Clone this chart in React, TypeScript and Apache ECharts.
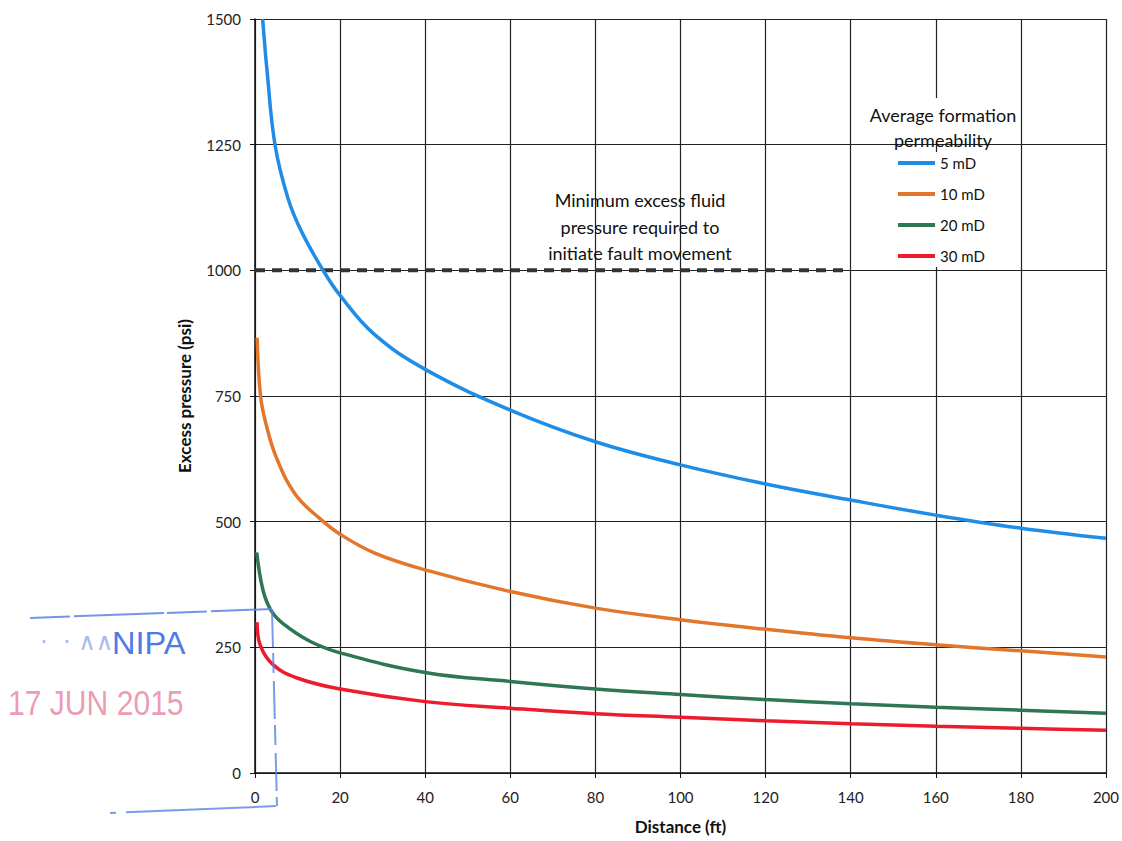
import React, { useEffect, useRef } from "react";
import * as echarts from "echarts";

// Distance (ft) and excess pressure (psi), per permeability
const dist5 = [1.8, 2.1, 2.8, 4.7, 7.8, 11, 16, 20, 28, 40, 60, 80, 100, 120, 140, 160, 180, 200];
const psi5 = [1500, 1468, 1400, 1250, 1142, 1076, 1000, 950, 873, 803, 722, 659, 613, 575, 543, 513, 487, 467];

const dist10 = [0.5, 1.3, 2.6, 5.0, 9.5, 15.4, 20, 28, 40, 60, 80, 100, 120, 140, 160, 180, 200];
const psi10 = [866, 750, 694, 628, 554, 505, 475, 438, 404, 361, 328, 305, 286, 269, 255, 243, 231];

const dist20 = [0.4, 1.9, 3.8, 6.6, 12.9, 20, 40, 60, 80, 100, 120, 140, 160, 180, 200];
const psi20 = [439, 363, 323, 297, 262, 239, 200, 182, 167, 156, 146, 138, 131, 125, 119];

const dist30 = [0.5, 1.2, 4.3, 9.9, 20, 40, 60, 80, 100, 120, 140, 160, 180, 200];
const psi30 = [300, 255, 215, 189, 167, 142, 129, 118, 111, 104, 98, 93, 89, 85];

const thresholdDist = [0, 140];
const thresholdPsi = [1000, 1000];

const seriesNames = ["5 mD", "10 mD", "20 mD", "30 mD"];
const seriesColors = ["#1f8ce6", "#e2772c", "#2e7654", "#ec1c2c"];

const xTicks = { min: 0, max: 200, interval: 20 };
const yTicks = { min: 0, max: 1500, interval: 250 };

const FONT = "Lato, 'Open Sans', 'DejaVu Sans', sans-serif";

function pairs(xs: number[], ys: number[]) {
  return xs.map((x, i) => [x, ys[i]]);
}

export default function App() {
  const ref = useRef<HTMLDivElement>(null);
  useEffect(() => {
    if (!ref.current) return;
    const chart = echarts.init(ref.current, undefined, { renderer: "svg" });
    const allData = [
      pairs(dist5, psi5),
      pairs(dist10, psi10),
      pairs(dist20, psi20),
      pairs(dist30, psi30),
    ];
    const curveSeries = allData.map((d, i) => ({
      name: seriesNames[i],
      type: "line",
      data: d,
      showSymbol: false,
      symbol: "none",
      smooth: 0.4,
      lineStyle: { color: seriesColors[i], width: 3.5 },
      itemStyle: { color: seriesColors[i] },
      z: 3,
    }));
    const stampBlue = "#5a82e6";
    chart.setOption({
      animation: false,
      backgroundColor: "#ffffff",
      grid: { left: 255, right: 16, top: 19, bottom: 68, containLabel: false },
      xAxis: {
        type: "value",
        min: xTicks.min,
        max: xTicks.max,
        interval: xTicks.interval,
        name: "Distance (ft)",
        nameLocation: "middle",
        nameGap: 45,
        nameTextStyle: { fontFamily: FONT, fontSize: 17, fontWeight: "bold", color: "#111" },
        axisLine: { show: true, lineStyle: { color: "#111", width: 1.5 } },
        axisTick: { show: true, inside: false, length: 5, lineStyle: { color: "#111" } },
        axisLabel: { margin: 16, fontFamily: FONT, fontSize: 15, color: "#222", formatter: (v: number) => String(v) },
        splitLine: { show: true, lineStyle: { color: "#222", width: 1.2 } },
      },
      yAxis: {
        type: "value",
        min: yTicks.min,
        max: yTicks.max,
        interval: yTicks.interval,
        name: "Excess pressure (psi)",
        nameLocation: "middle",
        nameGap: 62,
        nameTextStyle: { fontFamily: FONT, fontSize: 17, fontWeight: "bold", color: "#111" },
        axisLine: { show: true, lineStyle: { color: "#111", width: 1.5 } },
        axisTick: { show: true, inside: false, length: 5, lineStyle: { color: "#111" } },
        axisLabel: { margin: 14, fontFamily: FONT, fontSize: 15, color: "#222", formatter: (v: number) => String(v) },
        splitLine: { show: true, lineStyle: { color: "#222", width: 1.2 } },
      },
      legend: {
        data: seriesNames,
        orient: "vertical",
        left: 894,
        top: 152,
        icon: "rect",
        itemWidth: 37,
        itemHeight: 4,
        itemGap: 13,
        padding: [2, 4],
        backgroundColor: "#ffffff",
        selectedMode: false,
        textStyle: { fontFamily: FONT, fontSize: 15, color: "#111", lineHeight: 18 },
      },
      series: [
        ...curveSeries,
        {
          name: "threshold",
          type: "line",
          data: pairs(thresholdDist, thresholdPsi),
          showSymbol: false,
          symbol: "none",
          lineStyle: { color: "#333", width: 4, type: [10, 7] },
          z: 2,
        },
      ],
      graphic: [
        {
          type: "rect",
          shape: { x: 930, y: 98, width: 28, height: 44 },
          style: { fill: "#ffffff" },
          z: 5,
        },
        {
          type: "text",
          z: 6,
          style: {
            text: "Average formation\npermeability",
            x: 943,
            y: 102,
            textAlign: "center",
            textVerticalAlign: "top",
            fontFamily: FONT,
            fontSize: 18,
            lineHeight: 25,
            fill: "#111",
          },
        },
        {
          type: "text",
          z: 6,
          style: {
            text: "Minimum excess fluid\npressure required to\ninitiate fault movement",
            x: 640,
            y: 187,
            textAlign: "center",
            textVerticalAlign: "top",
            fontFamily: FONT,
            fontSize: 18,
            lineHeight: 26.5,
            fill: "#111",
          },
        },
        // stamp remnants
        {
          type: "polyline",
          z: 10,
          shape: { points: [[30, 618], [272, 609]] },
          style: { stroke: stampBlue, lineWidth: 2, lineDash: [40, 4, 90, 3], opacity: 0.85 },
        },
        {
          type: "polyline",
          z: 10,
          shape: { points: [[272, 609], [277, 806]] },
          style: { stroke: stampBlue, lineWidth: 2, lineDash: [38, 6, 20, 8], opacity: 0.8 },
        },
        {
          type: "polyline",
          z: 10,
          shape: { points: [[110, 813], [278, 806]] },
          style: { stroke: stampBlue, lineWidth: 2, lineDash: [6, 10, 150, 2], opacity: 0.8 },
        },
        {
          type: "text",
          z: 10,
          style: {
            text: "·  · ∧∧",
            x: 40,
            y: 642,
            textVerticalAlign: "middle",
            fontFamily: "'DejaVu Sans', sans-serif",
            fontSize: 24,
            fill: "#a9bbe8",
          },
        },
        {
          type: "text",
          z: 10,
          x: 112,
          y: 643,
          scaleX: 1.05,
          style: {
            text: "NIPA",
            x: 0,
            y: 0,
            textVerticalAlign: "middle",
            fontFamily: "'Liberation Sans', 'DejaVu Sans', sans-serif",
            fontSize: 31,
            fill: "#4d7be4",
          },
        },
        {
          type: "text",
          z: 10,
          x: 8,
          y: 703,
          scaleX: 0.86,
          style: {
            text: "17 JUN 2015",
            x: 0,
            y: 0,
            textVerticalAlign: "middle",
            fontFamily: "'Liberation Sans', 'DejaVu Sans', sans-serif",
            fontSize: 35,
            fill: "#e98aa6",
            opacity: 0.85,
          },
        },
      ],
    });
    return () => chart.dispose();
  }, []);
  return (
    <div
      ref={ref}
      style={{ position: "absolute", left: 0, top: 0, width: 1122, height: 841, background: "#fff" }}
    />
  );
}
